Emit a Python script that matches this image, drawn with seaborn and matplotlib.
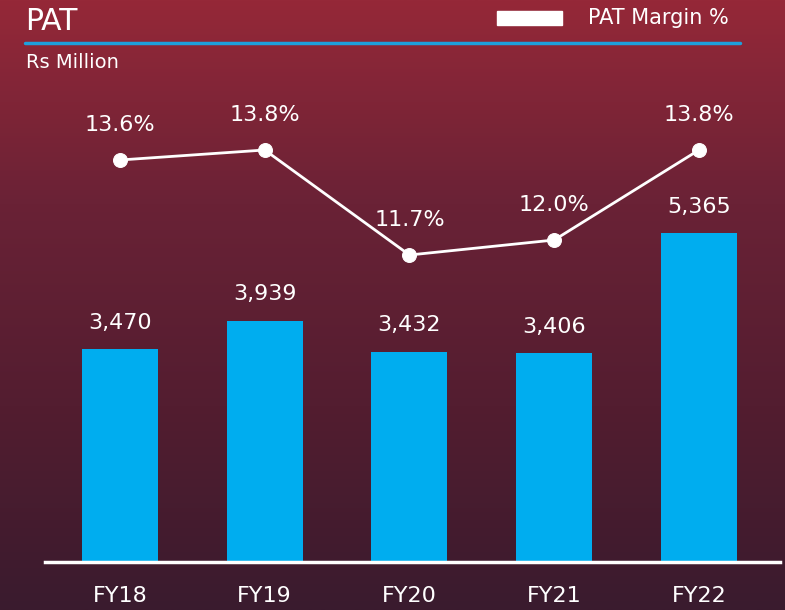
import matplotlib.pyplot as plt
import numpy as np
import pandas as pd
import seaborn as sns
from matplotlib.colors import LinearSegmentedColormap
from matplotlib.patches import Rectangle

years = ['FY18', 'FY19', 'FY20', 'FY21', 'FY22']
pat = [3470, 3939, 3432, 3406, 5365]
margin = [13.6, 13.8, 11.7, 12.0, 13.8]
pat_labels = ['3,470', '3,939', '3,432', '3,406', '5,365']
margin_labels = ['13.6%', '13.8%', '11.7%', '12.0%', '13.8%']

df = pd.DataFrame({'year': years, 'pat': pat, 'margin': margin})

sns.set_style('white')
plt.rcParams['font.family'] = ['DejaVu Sans']

fig = plt.figure(figsize=(7.85, 6.10), dpi=100)

# background gradient
bg = fig.add_axes([0, 0, 1, 1])
grad_cmap = LinearSegmentedColormap.from_list('bg', ['#3a1b2e', '#531d30', '#6a2236', '#952838'])
bg.imshow(np.linspace(0, 1, 256).reshape(-1, 1), aspect='auto', cmap=grad_cmap,
          origin='lower', extent=[0, 1, 0, 1])
bg.axis('off')

# main axes: baseline at y=562px, top at 72px, x from 45 to 780
W, H = 785, 610
ax = fig.add_axes([45 / W, (H - 562) / H, 735 / W, 490 / H])
ax.set_facecolor('none')
sns.barplot(data=df, x='year', y='pat', color='#00adef', width=0.525,
            saturation=1, linewidth=0, ax=ax)
ax.set_xlim(-0.518, 4.56)
ax.set_ylim(0, 8000)
for i, lab in enumerate(pat_labels):
    ax.annotate(lab, (i, pat[i]), xytext=(0, 12), textcoords='offset points',
                ha='center', va='bottom', color='white', fontsize=16)

for s in ['top', 'right', 'left']:
    ax.spines[s].set_visible(False)
ax.spines['bottom'].set_color('white')
ax.spines['bottom'].set_linewidth(2.5)
ax.set_yticks([])
ax.set_xlabel('')
ax.set_ylabel('')
ax.tick_params(axis='x', length=0, pad=17, labelsize=16, colors='white')

# margin line on twin axis
ax2 = ax.twinx()
sns.lineplot(x=np.arange(len(years)), y=margin, color='white', linewidth=2,
             marker='o', markersize=10, markeredgecolor='white', ax=ax2)
ax2.set_ylim(5.56, 15.36)
ax2.set_xlim(-0.518, 4.56)
ax2.axis('off')
for i, lab in enumerate(margin_labels):
    ax2.annotate(lab, (i, margin[i]), xytext=(0, 18), textcoords='offset points',
                 ha='center', va='bottom', color='white', fontsize=16)

# header
fig.text(25 / W, 1 - 21 / H, 'PAT', color='white', fontsize=21.5, va='center', ha='left')
fig.add_artist(plt.Line2D([25 / W, 740 / W], [1 - 43 / H, 1 - 43 / H],
                          color='#1ea0dc', linewidth=2.5))
fig.text(26 / W, 1 - 62 / H, 'Rs Million', color='white', fontsize=14, va='center', ha='left')
fig.add_artist(Rectangle((497 / W, 1 - 25 / H), 65 / W, 14 / H, color='white',
                         transform=fig.transFigure))
fig.text(588 / W, 1 - 18 / H, 'PAT Margin %', color='white', fontsize=15,
         va='center', ha='left')

fig.savefig('out.png', dpi=100)
